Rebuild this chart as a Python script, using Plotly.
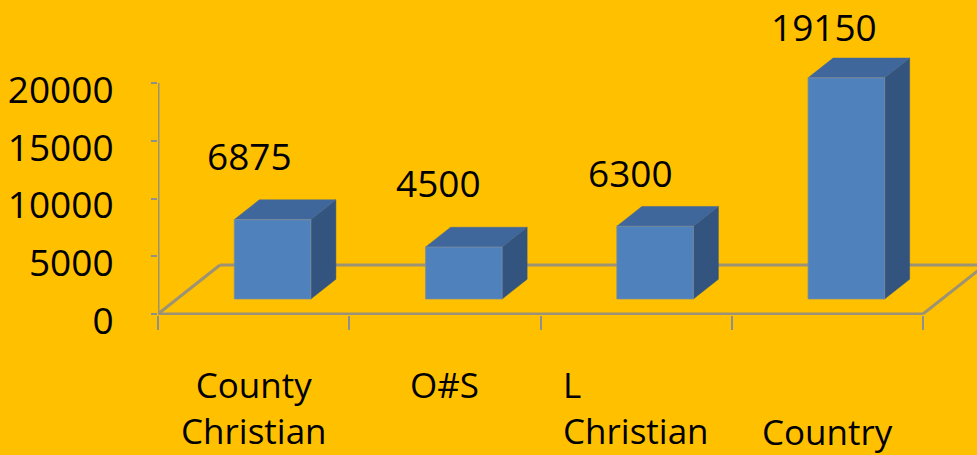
import plotly.graph_objects as go

# Chart data
categories = ["County Christian", "O#S", "L Christian", "Country"]
tick_labels = ["County<br>Christian", "O#S", "L<br>Christian", "Country"]
values = [6875, 4500, 6300, 19150]
y_ticks = [0, 5000, 10000, 15000, 20000]

# Colours
BG = "#FFC000"
FRONT = "#4F81BD"
TOP = "#40679B"
SIDE = "#32547F"
EDGE = "#9c9274"

# Oblique projection of the floor depth, in axis units
DEPTH_X = 0.324
DEPTH_Y = 4240
BAR_W = 0.4
FRONT_D = 0.306   # depth of the front face of each column
BACK_D = 0.71     # depth of the back face of each column

FONT = "Open Sans"

fig = go.Figure()

fx, fy = FRONT_D * DEPTH_X, FRONT_D * DEPTH_Y
dx, dy = (BACK_D - FRONT_D) * DEPTH_X, (BACK_D - FRONT_D) * DEPTH_Y

for i, v in enumerate(values):
    left = i - BAR_W / 2 + fx
    right = i + BAR_W / 2 + fx
    base = fy
    top = fy + v
    # right side face
    fig.add_trace(go.Scatter(
        x=[right, right + dx, right + dx, right, right],
        y=[base, base + dy, top + dy, top, base],
        fill="toself", fillcolor=SIDE, mode="lines",
        line=dict(color=SIDE, width=0.5), hoverinfo="skip", showlegend=False))
    # top face
    fig.add_trace(go.Scatter(
        x=[left, right, right + dx, left + dx, left],
        y=[top, top, top + dy, top + dy, top],
        fill="toself", fillcolor=TOP, mode="lines",
        line=dict(color=TOP, width=0.5), hoverinfo="skip", showlegend=False))
    # front face
    fig.add_trace(go.Scatter(
        x=[left, right, right, left, left],
        y=[base, base, top, top, base],
        fill="toself", fillcolor=FRONT, mode="lines",
        line=dict(color="rgba(120,140,160,0.7)", width=1.2),
        hoverinfo="skip", showlegend=False))

n = len(categories)
x0, x1 = -0.5, n - 0.5
floor = [
    (x0, 0, x1, 0),
    (x0, 0, x0 + DEPTH_X, DEPTH_Y),
    (x0 + DEPTH_X, DEPTH_Y, x1 + DEPTH_X, DEPTH_Y),
    (x1, 0, x1 + DEPTH_X, DEPTH_Y),
]
shapes = []
for (a, b, c, d) in floor:
    shapes.append(dict(type="line", xref="x", yref="y", x0=a, y0=b, x1=c, y1=d,
                       line=dict(color=EDGE, width=3), layer="below"))
# vertical value axis line
shapes.append(dict(type="line", xref="x", yref="y", x0=x0, y0=0, x1=x0, y1=y_ticks[-1],
                   line=dict(color=EDGE, width=3), layer="below"))

annotations = []
# category label layout: text alignment and the text row each label starts on
aligns = ["center", "center", "left", "center"]
rows = [0, 0, 0, 1]
for i, lab in enumerate(tick_labels):
    annotations.append(dict(
        x=i, xref="x", y=0, yref="paper", yanchor="top", xanchor="center",
        yshift=-44 - 47 * rows[i], text=lab, align=aligns[i], showarrow=False,
        font=dict(family=FONT, size=35, color="black")))
# value labels, lifted above the column tops
label_lift = [64, 65, 54, 51]
label_dx = [-0.02, -0.035, -0.03, -0.02]
for i, v in enumerate(values):
    annotations.append(dict(
        x=i + label_dx[i], xref="x", y=fy + v, yref="y", yanchor="middle",
        yshift=label_lift[i], text=str(v), showarrow=False,
        font=dict(family=FONT, size=37, color="black")))

PX_PER_UNIT_X = 191.25
VAL_PER_PX = 20000 / 231
fig.update_layout(
    width=977, height=455,
    margin=dict(l=158, r=0, t=0, b=140),
    paper_bgcolor=BG, plot_bgcolor=BG,
    showlegend=False,
    shapes=shapes,
    annotations=annotations,
    xaxis=dict(range=[x0, x0 + 819 / PX_PER_UNIT_X],
               tickvals=[k - 0.5 for k in range(n + 1)],
               ticks="outside", ticklen=14, tickwidth=2, tickcolor="#8f8f8f",
               showticklabels=False, showgrid=False, zeroline=False, showline=False),
    yaxis=dict(range=[-1 * VAL_PER_PX, 314 * VAL_PER_PX],
               tickvals=y_ticks, ticktext=[str(t) for t in y_ticks],
               ticks="outside", ticklen=6, tickwidth=2,
               tickcolor="#8f8f8f", ticklabelstandoff=30, ticklabelshift=7,
               tickfont=dict(family=FONT, size=37, color="black"),
               showgrid=False, zeroline=False, showline=False),
)

fig.write_html("out.html")
